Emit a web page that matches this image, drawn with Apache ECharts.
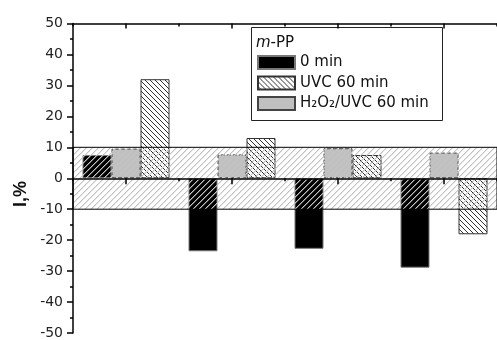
<!DOCTYPE html>
<html>
<head>
<meta charset="utf-8">
<script src="https://cdn.jsdelivr.net/npm/echarts@6/dist/echarts.min.js"></script>
<style>
html,body{margin:0;padding:0;background:#fff;}
#c{width:497px;height:340px;}
</style>
</head>
<body>
<div id="c"></div>
<script>
// ---- data ----
var categories = ['1', '2', '3', '4'];
var seriesNames = ['0 min', 'UVC 60 min', 'H\u2082O\u2082/UVC 60 min'];
var min0 = [7.5, -23.6, -22.8, -28.9];
var h2o2 = [9.6, 7.7, 9.7, 8.3];
var uvc = [32, 13, 7.5, -18.1];
var yTicks = {min: -50, max: 50, interval: 10};
var bandRange = [-10, 10];

function makePattern(size, dir, stroke, bg, soft) {
  var c = document.createElement('canvas');
  c.width = size; c.height = size;
  var ctx = c.getContext('2d');
  if (bg) { ctx.fillStyle = bg; ctx.fillRect(0, 0, size, size); }
  for (var i = 0; i < size; i++) {
    if (dir === '/') {
      ctx.fillStyle = stroke; ctx.fillRect(i, size - 1 - i, 1, 1);
      if (soft) { ctx.fillStyle = soft; ctx.fillRect((i + 1) % size, size - 1 - i, 1, 1); }
    } else {
      ctx.fillStyle = stroke; ctx.fillRect(i, i, 1, 1);
    }
  }
  return {image: c, repeat: 'repeat'};
}
var bandPattern = makePattern(6, '/', '#c2c2c2', null, 'rgba(200,200,200,0.45)');
var hatchPattern = makePattern(5, '\\', '#333333', '#ffffff');

var font = 'DejaVu Sans';
var chart = echarts.init(document.getElementById('c'), null, {renderer: 'canvas', devicePixelRatio: 1});
chart.setOption({
  animation: false,
  backgroundColor: '#fff',
  grid: {left: 73, top: 23.5, width: 436, height: 315, containLabel: false},
  xAxis: [
    {type: 'category', data: categories, position: 'bottom',
      axisLine: {show: false, onZero: false},
      axisTick: {show: false}, axisLabel: {show: false}, splitLine: {show: false}},
    {type: 'value', min: 0, max: 8, interval: 2, position: 'bottom', z: 10,
      axisLine: {show: true, onZero: true, lineStyle: {color: '#000', width: 1.5}},
      axisTick: {show: true, length: 3, lineStyle: {color: '#000', width: 1.5}},
      minorTick: {show: true, splitNumber: 2, length: 6, lineStyle: {color: '#000', width: 1.5}},
      axisLabel: {show: false}, splitLine: {show: false}, minorSplitLine: {show: false}},
    {type: 'value', min: 0, max: 8, interval: 2, position: 'top', z: 10,
      axisLine: {show: true, onZero: false, lineStyle: {color: '#000', width: 1.5}},
      axisTick: {show: true, inside: true, length: 3, lineStyle: {color: '#000', width: 1.5}},
      minorTick: {show: true, splitNumber: 2, length: 5, lineStyle: {color: '#000', width: 1.5}},
      axisLabel: {show: false}, splitLine: {show: false}, minorSplitLine: {show: false}}
  ],
  yAxis: {type: 'value', min: yTicks.min, max: yTicks.max, interval: yTicks.interval, z: 10,
    axisLine: {show: true, onZero: false, lineStyle: {color: '#000', width: 1.5}},
    axisTick: {show: true, length: 6, lineStyle: {color: '#000', width: 1.5}},
    minorTick: {show: true, splitNumber: 2, length: 3, lineStyle: {color: '#000', width: 1.5}},
    axisLabel: {margin: 10, fontFamily: font, fontSize: 14, color: '#222'},
    splitLine: {show: false}},
  legend: {
    data: [seriesNames[0], seriesNames[1], seriesNames[2]],
    orient: 'vertical', left: 257, top: 55, itemWidth: 37, itemHeight: 13, itemGap: 5.5,
    icon: 'rect', padding: 0, z: 6,
    textStyle: {fontFamily: font, fontSize: 15, color: '#111'}
  },
  graphic: [
    {type: 'rect', z: 5, shape: {x: 251.5, y: 27.5, width: 191, height: 93},
      style: {fill: '#fff', stroke: '#222', lineWidth: 1}},
    {type: 'text', z: 6, x: 256, y: 43,
      style: {text: '{i|m}-PP', fontFamily: font, fontSize: 15, fill: '#111', verticalAlign: 'middle',
        rich: {i: {fontStyle: 'italic', fontFamily: font, fontSize: 15}}}},
    {type: 'text', z: 6, x: 21, y: 194, rotation: Math.PI / 2,
      style: {text: 'I,%', fontFamily: 'Liberation Sans', fontWeight: 'bold', fontSize: 18, fill: '#111',
        align: 'center', verticalAlign: 'middle'}}
  ],
  series: [
    {name: seriesNames[0], type: 'bar', data: min0, barWidth: 29, barGap: '0%', z: 2,
      itemStyle: {color: '#000', borderColor: '#777', borderWidth: 1}},
    {name: seriesNames[2], type: 'bar', data: h2o2, barWidth: 29, barGap: '0%', z: 2,
      itemStyle: {color: '#c0c0c0', borderColor: '#444', borderWidth: 1, borderType: [4, 2]}},
    {name: seriesNames[1], type: 'bar', data: uvc, barWidth: 29, barGap: '0%', z: 2,
      itemStyle: {color: hatchPattern, borderColor: '#333', borderWidth: 1}},
    {name: 'band', type: 'line', data: [], z: 3,
      markArea: {silent: true, z: 3, label: {show: false},
        itemStyle: {color: bandPattern, borderColor: '#000', borderWidth: 1},
        data: [[{yAxis: bandRange[0]}, {yAxis: bandRange[1]}]]}}
  ]
});
</script>
</body>
</html>
